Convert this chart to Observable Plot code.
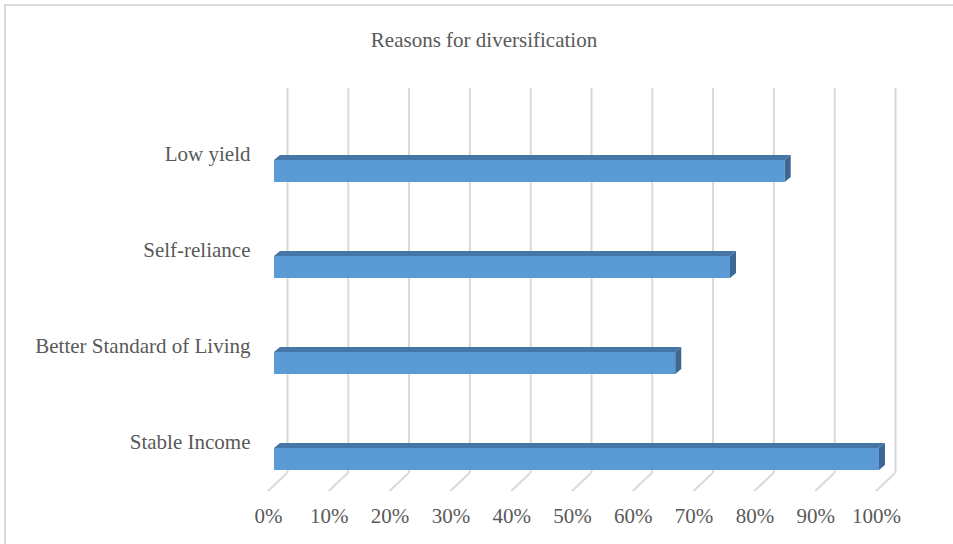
<!DOCTYPE html>
<html>
<head>
<meta charset="utf-8">
<script src="https://cdn.jsdelivr.net/npm/d3@7"></script>
<script src="https://cdn.jsdelivr.net/npm/@observablehq/plot@0.6"></script>
<style>
  html, body { margin: 0; padding: 0; background: #fff; overflow: hidden; }
  #frame { position: absolute; left: 4px; top: 4px; width: 980px; height: 600px;
           border-left: 2px solid #d9d9d9; border-top: 2px solid #d9d9d9; }
  #title { position: absolute; left: 484px; top: 30px; transform: translateX(-50%);
           font-family: "Liberation Serif", "Times New Roman", serif; font-size: 21px;
           line-height: 1; color: #595959; white-space: nowrap; }
  #chart { position: absolute; left: 0; top: 0; }
</style>
</head>
<body>
<div id="frame"></div>
<div id="title">Reasons for diversification</div>
<div id="chart"></div>
<script>
const categories = ["Low yield", "Self-reliance", "Better Standard of Living", "Stable Income"];
const values = [0.84, 0.75, 0.66, 0.995];
const xTicks = [0, 0.1, 0.2, 0.3, 0.4, 0.5, 0.6, 0.7, 0.8, 0.9, 1.0];

const data = categories.map((cat, i) => ({cat, value: values[i]}));

const FRONT = "#5b9bd5", TOP = "#4676a8", SIDE = "#3d6894", GRID = "#d9d9d9", TEXT = "#595959";
const DX = 6, DY = 5;          // bar depth offset
const WALL = 13, FLOOR_DX = 19, FLOOR_DY = 18; // back wall / floor offsets

const floorLines = (index, {x}, values, dims) => {
  const g = d3.create("svg:g");
  const yFront = dims.height - dims.marginBottom;
  for (const t of xTicks) {
    const xb = x(t) + WALL;
    g.append("line")
      .attr("x1", xb).attr("y1", yFront - FLOOR_DY)
      .attr("x2", xb - FLOOR_DX).attr("y2", yFront)
      .attr("stroke", GRID).attr("stroke-width", 2);
  }
  return g.node();
};

const barDepth = (index, {x, y}) => {
  const g = d3.create("svg:g");
  const bw = y.bandwidth();
  for (const d of data) {
    const x0 = x(0), x1 = x(d.value), yt = y(d.cat), yb = yt + bw;
    g.append("path")
      .attr("d", `M${x0},${yt}L${x1},${yt}L${x1 + DX},${yt - DY}L${x0 + DX},${yt - DY}Z`)
      .attr("fill", TOP);
    g.append("path")
      .attr("d", `M${x1},${yt}L${x1 + DX},${yt - DY}L${x1 + DX},${yb - DY}L${x1},${yb}Z`)
      .attr("fill", SIDE);
  }
  return g.node();
};

const chart = Plot.plot({
  width: 953,
  height: 544,
  marginLeft: 274,
  marginRight: 71,
  marginTop: 88,
  marginBottom: 53,
  style: {fontFamily: "Liberation Serif, Times New Roman, serif", fontSize: "21px", color: TEXT, background: "transparent"},
  x: {domain: [0, 1], axis: null},
  y: {domain: categories, axis: null, paddingInner: 0.7725, paddingOuter: 0.47, align: 0.77},
  marks: [
    Plot.ruleX(xTicks, {x: d => d, dx: WALL, insetBottom: FLOOR_DY, stroke: GRID, strokeWidth: 2}),
    floorLines,
    Plot.barX(data, {x: "value", y: "cat", fill: FRONT}),
    barDepth,
    Plot.axisX(xTicks, {anchor: "bottom", tickSize: 0, tickPadding: 17, dx: -6,
      tickFormat: d3.format(".0%"), fill: TEXT, fontSize: 21, label: null}),
    Plot.axisY(categories, {anchor: "left", tickSize: 0, tickPadding: 24, dy: -17.5,
      fill: TEXT, fontSize: 21, label: null})
  ]
});
document.getElementById("chart").appendChild(chart);
</script>
</body>
</html>
